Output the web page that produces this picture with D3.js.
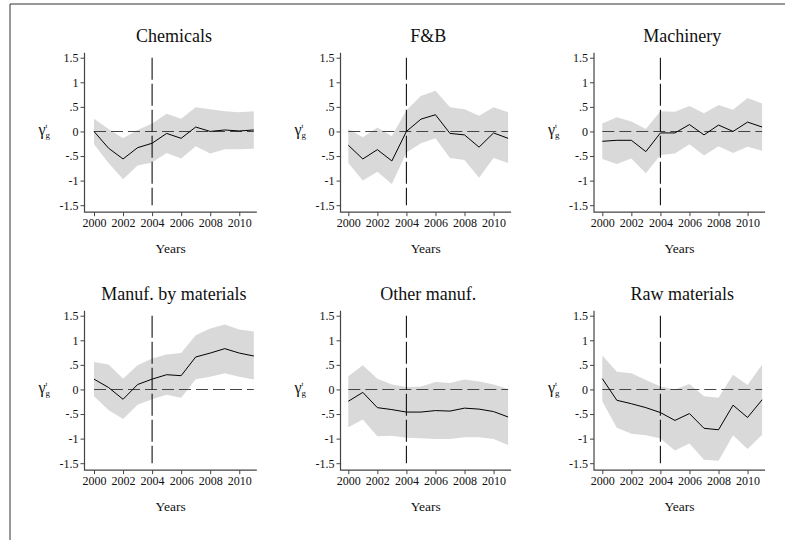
<!DOCTYPE html>
<html>
<head>
<meta charset="utf-8">
<script src="https://cdn.jsdelivr.net/npm/d3@7"></script>
</head>
<body style="margin:0; background:#fff">
<script>
const years = [2000, 2001, 2002, 2003, 2004, 2005, 2006, 2007, 2008, 2009, 2010, 2011];
const yTicks = [1.5, 1, 0.5, 0, -0.5, -1, -1.5];
const yTickLabels = ["1.5", "1", ".5", "0", "-.5", "-1", "-1.5"];
const xTicks = [2000, 2002, 2004, 2006, 2008, 2010];
const titles = ["Chemicals", "F&B", "Machinery", "Manuf. by materials", "Other manuf.", "Raw materials"];

// point estimates
const chemEst = [0, -0.34, -0.56, -0.33, -0.24, -0.04, -0.14, 0.09, 0.0, 0.03, 0.01, 0.03];
const fbEst = [-0.28, -0.56, -0.37, -0.60, 0, 0.25, 0.34, -0.04, -0.07, -0.32, -0.03, -0.14];
const machEst = [-0.20, -0.18, -0.18, -0.41, -0.03, -0.03, 0.14, -0.07, 0.13, 0, 0.19, 0.09];
const matEst = [0.21, 0.04, -0.20, 0.10, 0.21, 0.30, 0.28, 0.66, 0.74, 0.83, 0.74, 0.68];
const otherEst = [-0.24, -0.06, -0.37, -0.41, -0.46, -0.46, -0.43, -0.44, -0.38, -0.40, -0.45, -0.56];
const rawEst = [0.22, -0.22, -0.29, -0.37, -0.47, -0.63, -0.49, -0.79, -0.82, -0.32, -0.57, -0.21];

// upper confidence bounds
const chemHi = [0.26, 0.05, -0.14, 0.03, 0.16, 0.36, 0.26, 0.49, 0.45, 0.41, 0.39, 0.41];
const fbHi = [0.05, -0.12, 0.08, -0.10, 0.43, 0.72, 0.83, 0.49, 0.45, 0.32, 0.49, 0.39];
const machHi = [0.16, 0.29, 0.20, 0.05, 0.41, 0.40, 0.52, 0.37, 0.54, 0.44, 0.68, 0.57];
const matHi = [0.56, 0.51, 0.22, 0.49, 0.63, 0.71, 0.74, 1.10, 1.24, 1.32, 1.22, 1.18];
const otherHi = [0.27, 0.49, 0.22, 0.10, 0.05, 0.06, 0.15, 0.13, 0.20, 0.16, 0.10, 0.01];
const rawHi = [0.69, 0.36, 0.33, 0.19, 0.06, 0.0, 0.11, -0.14, -0.17, 0.30, 0.09, 0.50];

// lower confidence bounds
const chemLo = [-0.26, -0.64, -0.97, -0.69, -0.63, -0.44, -0.55, -0.30, -0.45, -0.36, -0.36, -0.35];
const fbLo = [-0.64, -1.0, -0.82, -1.07, -0.43, -0.24, -0.14, -0.54, -0.58, -0.94, -0.54, -0.64];
const machLo = [-0.56, -0.66, -0.55, -0.85, -0.48, -0.45, -0.26, -0.49, -0.30, -0.44, -0.31, -0.39];
const matLo = [-0.14, -0.42, -0.60, -0.31, -0.20, -0.11, -0.17, 0.21, 0.26, 0.33, 0.26, 0.20];
const otherLo = [-0.77, -0.61, -0.95, -0.94, -0.98, -0.99, -1.01, -1.01, -0.97, -0.97, -1.01, -1.13];
const rawLo = [-0.24, -0.78, -0.90, -0.93, -1.0, -1.24, -1.10, -1.43, -1.45, -0.93, -1.21, -0.92];

const ests = [chemEst, fbEst, machEst, matEst, otherEst, rawEst];
const his = [chemHi, fbHi, machHi, matHi, otherHi, rawHi];
const los = [chemLo, fbLo, machLo, matLo, otherLo, rawLo];

const w = 785, h = 540;
const font = '"Liberation Serif"';
const svg = d3.select("body").append("svg").attr("width", w).attr("height", h);

// outer frame (left and top edges)
svg.append("path").attr("d", "M10,540V4H785").attr("fill", "none").attr("stroke", "#333").attr("stroke-width", 1);

const axisXs = [84.5, 340.5, 594];
const x0s = [94, 348.3, 602.3];
const rowTops = [57.7, 315.7];
const plotH = 147.5;
const axisCol = "#444";

titles.forEach((title, i) => {
  const col = i % 3, row = Math.floor(i / 3);
  const ax = axisXs[col];
  const x = d3.scaleLinear().domain([2000, 2011]).range([x0s[col], x0s[col] + 159.8]);
  const y = d3.scaleLinear().domain([-1.5, 1.5]).range([rowTops[row] + plotH, rowTops[row]]);
  const bottom = y(-1.5) + 7;
  const right = x(2011) + 3;
  const g = svg.append("g");

  const data = years.map((yr, k) => ({ yr, est: ests[i][k], hi: his[i][k], lo: los[i][k] }));

  // confidence band
  g.append("path").datum(data)
    .attr("fill", "#d9d9d9")
    .attr("d", d3.area().x(d => x(d.yr)).y0(d => y(d.lo)).y1(d => y(d.hi)));

  // zero line
  g.append("line")
    .attr("x1", x(2000)).attr("x2", x(2011))
    .attr("y1", y(0)).attr("y2", y(0))
    .attr("stroke", "#444").attr("stroke-width", 1.1)
    .attr("stroke-dasharray", "12,5");

  // estimate
  g.append("path").datum(data)
    .attr("fill", "none").attr("stroke", "#000").attr("stroke-width", 1)
    .attr("d", d3.line().x(d => x(d.yr)).y(d => y(d.est)));

  // 2004 reference line
  g.append("line")
    .attr("x1", x(2004)).attr("x2", x(2004))
    .attr("y1", y(1.5)).attr("y2", y(-1.5))
    .attr("stroke", "#111").attr("stroke-width", 1.1)
    .attr("stroke-dasharray", "22,4");

  // axes
  const yAxis = d3.axisLeft(y).tickValues(yTicks).tickSize(4).tickSizeOuter(0)
    .tickFormat((d, k) => yTickLabels[k]);
  const ya = g.append("g").attr("transform", `translate(${ax},0)`).call(yAxis);
  ya.select(".domain").remove();
  ya.selectAll("text").attr("font-size", 12).style("font-family", font).attr("x", -6).attr("fill", "#111");
  ya.selectAll(".tick line").attr("stroke", axisCol);

  const xAxis = d3.axisBottom(x).tickValues(xTicks).tickSize(4).tickSizeOuter(0).tickFormat(d3.format("d"));
  const xa = g.append("g").attr("transform", `translate(0,${bottom})`).call(xAxis);
  xa.select(".domain").remove();
  xa.selectAll("text").attr("font-size", 12).style("font-family", font).attr("y", 6).attr("fill", "#111");
  xa.selectAll(".tick line").attr("stroke", axisCol);

  g.append("path")
    .attr("d", `M${ax},${y(1.5) - 5}V${bottom}H${right}`)
    .attr("fill", "none").attr("stroke", axisCol).attr("stroke-width", 1.2);

  // title
  g.append("text")
    .attr("x", x(2005.5)).attr("y", y(1.5) - 16)
    .attr("text-anchor", "middle").attr("font-size", 18)
    .style("font-family", font).attr("fill", "#111")
    .text(title);

  // x label
  g.append("text")
    .attr("x", (ax + right) / 2).attr("y", bottom + 41)
    .attr("text-anchor", "middle").attr("font-size", 13.5)
    .style("font-family", font).attr("fill", "#111")
    .text("Years");

  // y label: gamma with superscript t and subscript g
  const lab = g.append("text").attr("x", ax - 46).attr("y", y(0) + 4).attr("font-size", 16)
    .style("font-family", font).attr("fill", "#111");
  lab.append("tspan").text("\u03b3");
  lab.append("tspan").attr("font-size", 7).attr("dy", -7).text("t");
  lab.append("tspan").attr("font-size", 9).attr("dy", 10).attr("dx", -2).text("g");
});
</script>
</body>
</html>
